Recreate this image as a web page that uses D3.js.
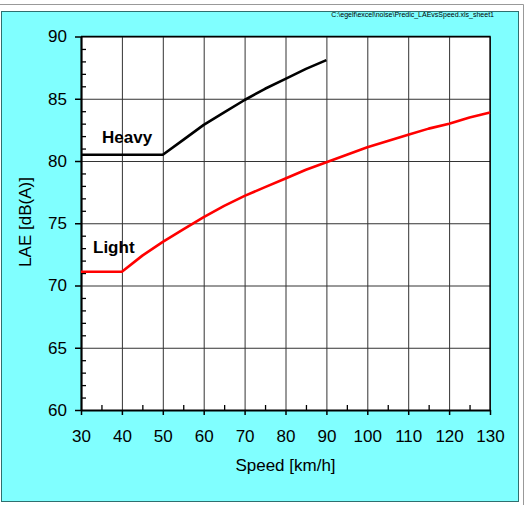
<!DOCTYPE html>
<html>
<head>
<meta charset="utf-8">
<script src="https://cdn.jsdelivr.net/npm/d3@7"></script>
<style>
  body { margin: 0; background: #fff; }
  svg { display: block; font-family: "Liberation Sans", Arial, sans-serif; }
</style>
</head>
<body>
<div id="chart"></div>
<script>
// values
var speeds = [30, 35, 40, 45, 50, 55, 60, 65, 70, 75, 80, 85, 90, 95, 100, 105, 110, 115, 120, 125, 130];
var light = [71.1, 71.1, 71.1, 72.4, 73.5, 74.5, 75.5, 76.4, 77.2, 77.9, 78.6, 79.3, 79.9, 80.5, 81.1, 81.6, 82.1, 82.6, 83.0, 83.5, 83.9];
var heavySpeeds = [30, 35, 40, 45, 50, 55, 60, 65, 70, 75, 80, 85, 90];
var heavy = [80.5, 80.5, 80.5, 80.5, 80.5, 81.7, 82.9, 83.9, 84.9, 85.8, 86.6, 87.4, 88.1];
var xTicks = [30, 40, 50, 60, 70, 80, 90, 100, 110, 120, 130];
var yTicks = [60, 65, 70, 75, 80, 85, 90];
var fileName = "C:\\egelf\\excel\\noise\\Predic_LAEvsSpeed.xls_sheet1";

var W = 529, H = 505;
var margin = {top: 36.5, right: 39, bottom: 95, left: 81},
    width = W - margin.left - margin.right,
    height = H - margin.top - margin.bottom;

var svg = d3.select("#chart").append("svg")
    .attr("width", W)
    .attr("height", H);

// outer grey frame lines
svg.append("line").attr("x1", 0).attr("x2", 523.5).attr("y1", 4.5).attr("y2", 4.5)
    .attr("stroke", "#999").attr("stroke-width", 1);
svg.append("line").attr("x1", 523.5).attr("x2", 523.5).attr("y1", 4.5).attr("y2", H)
    .attr("stroke", "#999").attr("stroke-width", 1);

// cyan chart area
svg.append("rect")
    .attr("x", 1.5).attr("y", 11.5)
    .attr("width", 517).attr("height", 490)
    .attr("fill", "#80ffff")
    .attr("stroke", "#2f6f6f")
    .attr("stroke-width", 1);

svg.append("text")
    .attr("x", 494).attr("y", 17)
    .attr("text-anchor", "end")
    .attr("font-size", "7px")
    .attr("fill", "#000")
    .text(fileName);

var g = svg.append("g")
    .attr("transform", "translate(" + margin.left + "," + margin.top + ")");

var x = d3.scaleLinear().domain([30, 130]).range([0, width]);
var y = d3.scaleLinear().domain([60, 90]).range([height, 0]);

// plot background
g.append("rect")
    .attr("width", width).attr("height", height)
    .attr("fill", "#fff");

// grid
g.append("g")
    .attr("class", "grid")
    .attr("transform", "translate(0," + height + ")")
    .call(d3.axisBottom(x).tickValues(xTicks).tickSize(-height).tickFormat(""))
    .call(function(s) {
      s.select(".domain").remove();
      s.selectAll("line").attr("stroke", "#333").attr("stroke-width", 1);
    });
g.append("g")
    .attr("class", "grid")
    .call(d3.axisLeft(y).tickValues(yTicks).tickSize(-width).tickFormat(""))
    .call(function(s) {
      s.select(".domain").remove();
      s.selectAll("line").attr("stroke", "#333").attr("stroke-width", 1);
    });

// top and right border
g.append("path")
    .attr("d", "M0,0H" + width + "V" + height)
    .attr("fill", "none")
    .attr("stroke", "#000")
    .attr("stroke-width", 1.3);

// minor ticks (inside)
var xMinor = xTicks.slice(0, -1).map(function(d) { return d + 5; });
var yMinor = d3.range(61, 90).filter(function(d) { return d % 5 !== 0; });

g.append("g")
    .attr("transform", "translate(0," + height + ")")
    .call(d3.axisTop(x).tickValues(xMinor).tickSize(5).tickFormat(""))
    .call(function(s) {
      s.select(".domain").remove();
      s.selectAll("line").attr("stroke", "#000").attr("stroke-width", 1.3);
    });
g.append("g")
    .call(d3.axisRight(y).tickValues(yMinor).tickSize(5).tickFormat(""))
    .call(function(s) {
      s.select(".domain").remove();
      s.selectAll("line").attr("stroke", "#000").attr("stroke-width", 1.3);
    });

// major axes
var xAxis = g.append("g")
    .attr("transform", "translate(0," + height + ")")
    .call(d3.axisBottom(x).tickValues(xTicks).tickSize(5).tickSizeOuter(0).tickPadding(15));
var yAxis = g.append("g")
    .call(d3.axisLeft(y).tickValues(yTicks).tickSize(6).tickSizeOuter(0).tickPadding(8));

[xAxis, yAxis].forEach(function(a) {
  a.select(".domain").attr("stroke", "#000").attr("stroke-width", 2.2);
  a.selectAll(".tick line").attr("stroke", "#000").attr("stroke-width", 1.5);
  a.selectAll("text")
      .attr("font-size", "17px")
      .attr("font-family", "'Liberation Sans', Arial, sans-serif")
      .attr("fill", "#000");
});

// lines
var line = d3.line()
    .x(function(d) { return x(d[0]); })
    .y(function(d) { return y(d[1]); });

g.append("path")
    .datum(d3.zip(speeds, light))
    .attr("fill", "none")
    .attr("stroke", "#ff0000")
    .attr("stroke-width", 2.6)
    .attr("stroke-linejoin", "round")
    .attr("d", line);

g.append("path")
    .datum(d3.zip(heavySpeeds, heavy))
    .attr("fill", "none")
    .attr("stroke", "#000")
    .attr("stroke-width", 2.6)
    .attr("stroke-linejoin", "round")
    .attr("d", line);

// series labels
svg.append("text")
    .attr("x", 102).attr("y", 142.5)
    .attr("font-size", "17px").attr("font-weight", "bold")
    .text("Heavy");
svg.append("text")
    .attr("x", 93).attr("y", 253)
    .attr("font-size", "17px").attr("font-weight", "bold")
    .text("Light");

// axis titles
svg.append("text")
    .attr("x", 285.5)
    .attr("y", 471)
    .attr("text-anchor", "middle")
    .attr("font-size", "17px")
    .text("Speed [km/h]");

svg.append("text")
    .attr("transform", "translate(31," + 222 + ") rotate(-90)")
    .attr("text-anchor", "middle")
    .attr("font-size", "17px")
    .text("LAE [dB(A)]");
</script>
</body>
</html>
